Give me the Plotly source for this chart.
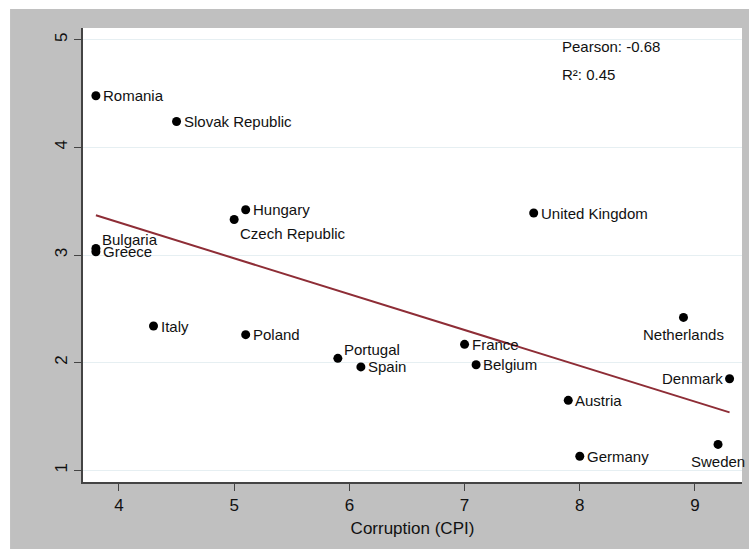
import numpy as np
import plotly.graph_objects as go

# Countries with their corruption score (CPI) and outcome value
countries = ["Romania", "Slovak Republic", "Hungary", "Czech Republic", "Bulgaria",
             "Greece", "United Kingdom", "Italy", "Poland", "Portugal", "Spain",
             "France", "Belgium", "Netherlands", "Denmark", "Austria", "Germany", "Sweden"]
cpi = [3.8, 4.5, 5.1, 5.0, 3.8, 3.8, 7.6, 4.3, 5.1, 5.9, 6.1, 7.0, 7.1, 8.9, 9.3, 7.9, 8.0, 9.2]
outcome = [4.48, 4.24, 3.42, 3.33, 3.06, 3.03, 3.39, 2.34, 2.26, 2.04, 1.96, 2.17, 1.98,
           2.42, 1.85, 1.65, 1.13, 1.24]

x_ticks = [4, 5, 6, 7, 8, 9]
y_ticks = [1, 2, 3, 4, 5]
stats_text = ["Pearson: -0.68", "R²: 0.45"]

# Marker label placement (clock-style), default is 3 o'clock
label_pos = {"Bulgaria": 2, "Portugal": 2, "Czech Republic": 4,
             "Netherlands": 6, "Sweden": 6, "Denmark": 9}

FONT = "Liberation Sans, Arial, Helvetica, sans-serif"
GRAY = "#C0C0C0"
FIT_COLOR = "#8E2D36"
LABEL_SIZE = 15

fig = go.Figure()

# Linear fit line over the observed range
slope, intercept = np.polyfit(cpi, outcome, 1)
fx = np.array([min(cpi), max(cpi)])
fig.add_trace(go.Scatter(x=fx, y=slope * fx + intercept, mode="lines",
                         line=dict(color=FIT_COLOR, width=2), hoverinfo="skip"))

fig.add_trace(go.Scatter(x=cpi, y=outcome, mode="markers", text=countries,
                         marker=dict(color="black", size=9)))

annotations = []
for name, xv, yv in zip(countries, cpi, outcome):
    pos = label_pos.get(name, 3)
    a = dict(x=xv, y=yv, xref="x", yref="y", text=name, showarrow=False,
             font=dict(family=FONT, size=LABEL_SIZE, color="#111111"))
    if pos == 3:
        a.update(xanchor="left", yanchor="middle", xshift=5)
    elif pos == 2:
        a.update(xanchor="left", yanchor="middle", xshift=4, yshift=9)
    elif pos == 4:
        a.update(xanchor="left", yanchor="middle", xshift=4, yshift=-14)
    elif pos == 6:
        a.update(xanchor="center", yanchor="middle", yshift=-17)
    elif pos == 9:
        a.update(xanchor="right", yanchor="middle", xshift=-5)
    annotations.append(a)

for i, t in enumerate(stats_text):
    annotations.append(dict(x=7.83, y=4.94 - 0.26 * i, xref="x", yref="y", text=t,
                            showarrow=False, xanchor="left", yanchor="middle",
                            font=dict(family=FONT, size=LABEL_SIZE, color="#111111")))

# White outer border on the top and left edges of the gray canvas
shapes = [
    dict(type="rect", xref="paper", yref="paper", x0=-0.3, x1=1.2, y0=1.042, y1=1.3,
         fillcolor="white", line=dict(width=0), layer="below"),
    dict(type="rect", xref="paper", yref="paper", x0=-0.3, x1=-0.1107, y0=-0.3, y1=1.3,
         fillcolor="white", line=dict(width=0), layer="below"),
]

fig.update_layout(
    width=749, height=549,
    margin=dict(l=83, r=7, t=28, b=67),
    paper_bgcolor=GRAY, plot_bgcolor="white",
    showlegend=False,
    font=dict(family=FONT, color="#111111"),
    annotations=annotations, shapes=shapes,
    xaxis=dict(range=[3.688, 9.408], tickvals=x_ticks, showgrid=False, zeroline=False,
               showline=True, linecolor="#444444", linewidth=1.5,
               ticks="outside", ticklen=7, tickcolor="#444444", tickwidth=1,
               tickfont=dict(family=FONT, size=17, color="#111111"),
               title=dict(text="Corruption (CPI)", font=dict(family=FONT, size=17, color="#111111"),
                          standoff=8)),
    yaxis=dict(range=[0.891, 5.109], tickvals=y_ticks, showgrid=True, gridcolor="#E6EFF2",
               gridwidth=1, zeroline=False,
               showline=True, linecolor="#444444", linewidth=1.5,
               ticks="outside", ticklen=7, tickcolor="#444444", tickwidth=1,
               tickangle=-90,
               tickfont=dict(family=FONT, size=17, color="#111111")),
)

fig.write_html("out.html")
